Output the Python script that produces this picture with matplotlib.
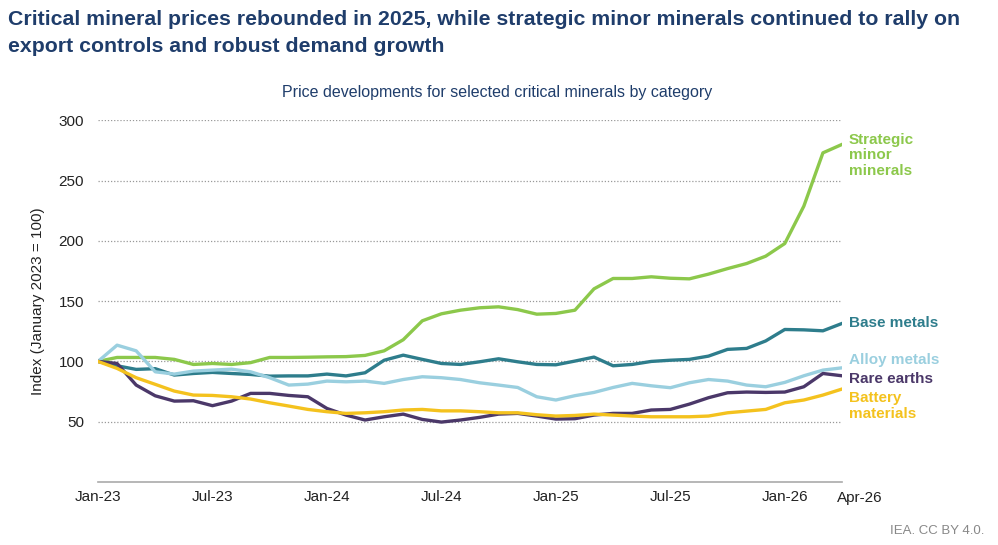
import matplotlib
matplotlib.use("Agg")
import matplotlib.pyplot as plt
import numpy as np

plt.rcParams['font.family'] = ['Liberation Sans', 'DejaVu Sans']

months = list(range(40))  # Jan-23 .. Apr-26
tick_pos = [0, 6, 12, 18, 24, 30, 36]
tick_labels = ["Jan-23", "Jul-23", "Jan-24", "Jul-24", "Jan-25", "Jul-25", "Jan-26"]
last_label = "Apr-26"

strategic = [100, 103.3, 103.3, 103.3, 101.7, 97.5, 98.3, 97.5, 99, 103.3,
             103.3, 103.5, 103.8, 104, 105, 108.8, 118, 133.7, 139.5, 142.5,
             144.5, 145.3, 143, 139.2, 139.8, 142.5, 160.2, 168.8, 168.8, 170.2,
             169, 168.5, 172.4, 177, 181.2, 187.3, 197.8, 228.8, 273, 280]
base = [100, 96.4, 93.4, 94, 88.7, 90, 90.9, 90, 89.2, 87.8,
        88, 88, 89.5, 88, 90.6, 101, 105.2, 101.7, 98.3, 97.5,
        99.7, 102.2, 99.7, 97.5, 97.2, 100.3, 103.6, 96.4, 97.5, 100,
        101, 101.7, 104.4, 110, 110.8, 117, 126.5, 126.2, 125.4, 131.5]
alloy = [100, 113.5, 108.8, 91.4, 89.5, 92, 92.8, 93.6, 91.4, 86.5,
         80.4, 81.2, 83.7, 83.1, 83.7, 81.8, 85, 87.3, 86.5, 85,
         82.3, 80.4, 78.4, 70.7, 68, 71.6, 74.3, 78.4, 81.8, 79.8,
         78.2, 82.3, 85, 83.7, 80.4, 79, 82.6, 88.1, 92.8, 94.7]
rare = [100, 98.3, 80.4, 71.5, 67.1, 67.4, 63.3, 67.1, 73.5, 73.5,
        71.8, 70.7, 61, 55.5, 51.4, 54.1, 56.3, 51.9, 49.7, 51.4,
        53.6, 56.3, 56.9, 54.7, 52.2, 52.5, 55.5, 56.9, 56.9, 59.7,
        60.2, 64.6, 69.9, 74, 74.6, 74.3, 74.6, 79, 90, 88.1]
battery = [100, 94.2, 86.5, 81, 75.4, 72.1, 71.8, 70.7, 68.8, 65.7,
           63, 60.2, 58.3, 56.9, 57.4, 58.3, 59.7, 60.2, 59, 59,
           58.3, 57.4, 57.4, 55.8, 54.7, 55.2, 56.3, 55.5, 54.7, 54.1,
           54.1, 54.1, 54.7, 57.4, 58.8, 60.2, 65.7, 68, 72.1, 77.1]

series = [
    ("Strategic\nminor\nminerals", strategic, "#8cc84b", 271),
    ("Base metals", base, "#2e7d8c", 132),
    ("Alloy metals", alloy, "#9acfdf", 101),
    ("Rare earths", rare, "#4b3869", 85.4),
    ("Battery\nmaterials", battery, "#f4c21e", 63),
]

fig = plt.figure(figsize=(9.98, 5.45), dpi=100)
ax = fig.add_axes([98/998, 1-482/545, (842-98)/998, (482-120.3)/545])

for name, vals, col, ly in series:
    ax.plot(months, vals, color=col, lw=2.4, solid_joinstyle='round', zorder=3)
    ax.text(39.35, ly, name, color=col, fontsize=11, fontweight='bold',
            va='center', ha='left', linespacing=1.15, clip_on=False)

ax.set_xlim(0, 39)
ax.set_ylim(0, 300)
ax.set_yticks([50, 100, 150, 200, 250, 300])
ax.tick_params(axis='y', length=0, labelsize=11, pad=10, colors='#222222')
ax.set_xticks(tick_pos)
ax.set_xticklabels(tick_labels)
ax.tick_params(axis='x', length=0, labelsize=11, pad=6, colors='#222222')
ax.text(38.75, -7.5, last_label, fontsize=11, color='#222222', ha='left', va='top')

ax.grid(axis='y', color='#999999', linestyle=(0, (1, 1.5)), lw=0.9)
ax.set_axisbelow(True)
for s in ['top', 'right', 'left']:
    ax.spines[s].set_visible(False)
ax.spines['bottom'].set_color('#aaaaaa')
ax.spines['bottom'].set_linewidth(1.2)

ax.set_ylabel("Index (January 2023 = 100)", fontsize=11, color='#222222', labelpad=10)

fig.text(8/998, 1-10/545, "Critical mineral prices rebounded in 2025, while strategic minor minerals continued to rally on\nexport controls and robust demand growth",
         fontsize=15.3, fontweight='bold', color='#1f3d6b', ha='left', va='top', linespacing=1.5)
fig.text(497/998, 1-93/545, "Price developments for selected critical minerals by category",
         fontsize=11.5, color='#1f3d6b', ha='center', va='center')
fig.text(984/998, 1-531/545, "IEA. CC BY 4.0.", fontsize=9.5, color='#888888', ha='right', va='center')

fig.savefig("out.png", dpi=100)
